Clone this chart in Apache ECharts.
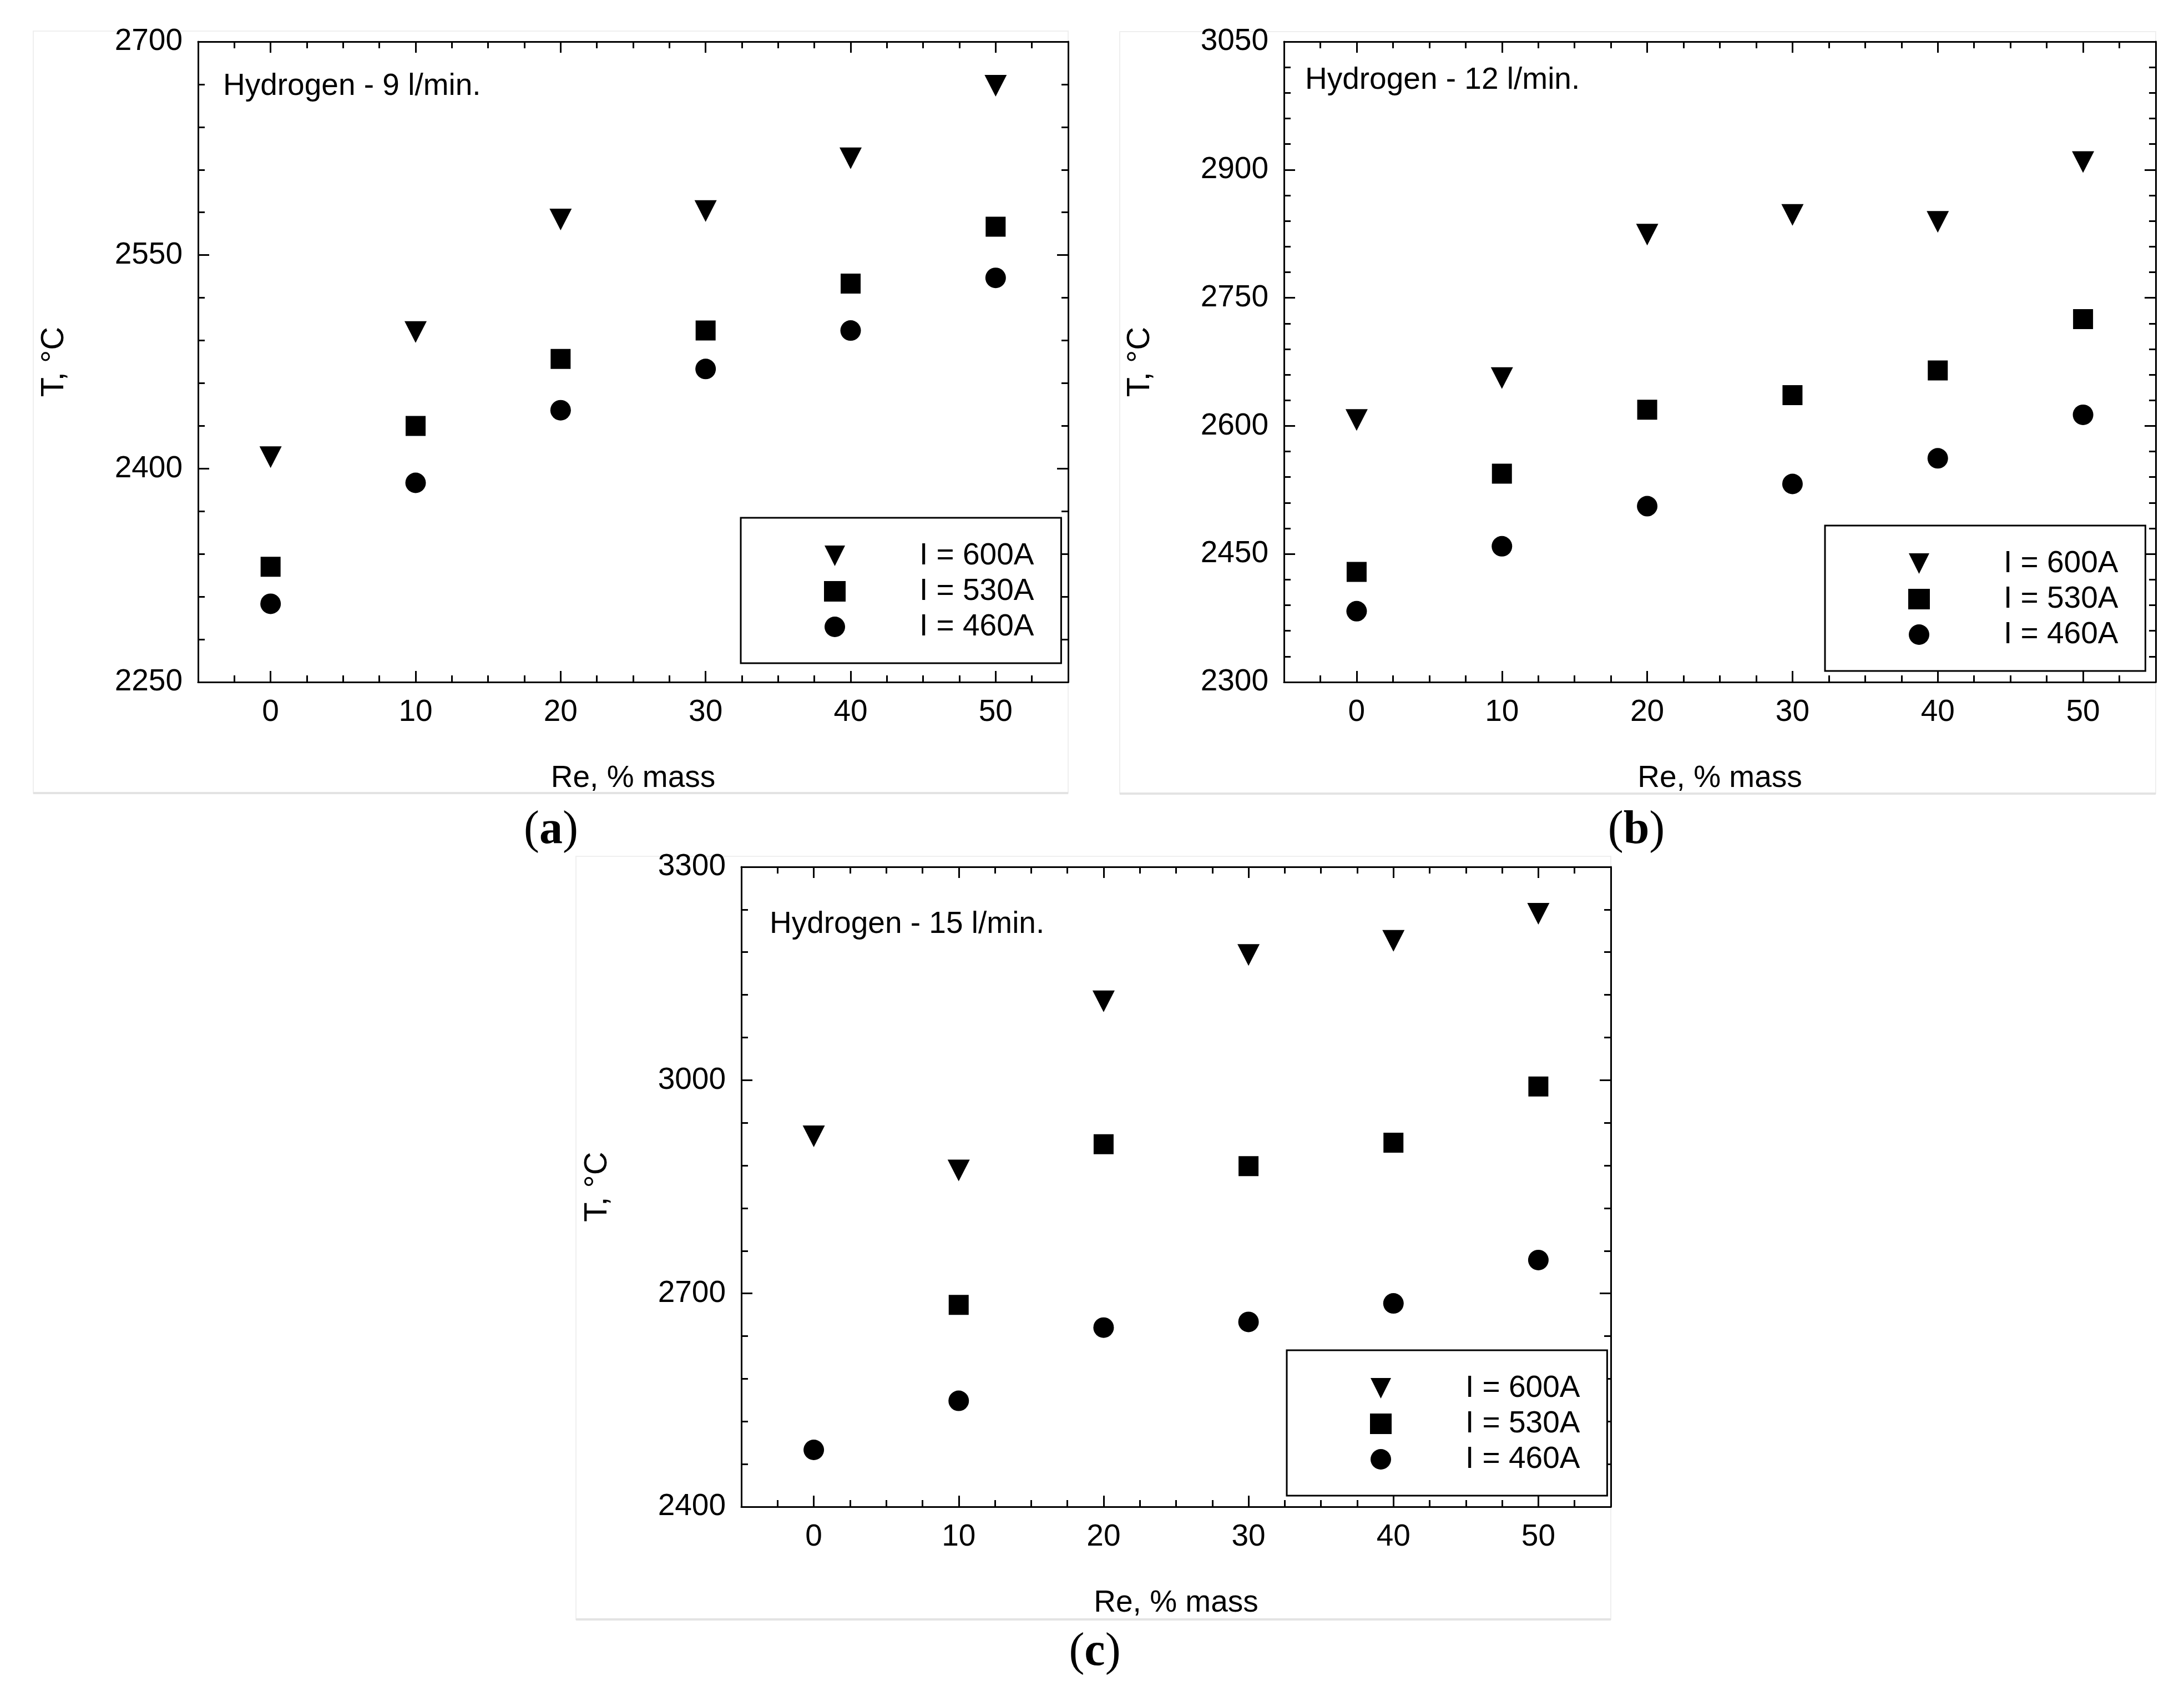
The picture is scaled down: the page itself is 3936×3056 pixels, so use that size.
<!DOCTYPE html>
<html>
<head>
<meta charset="utf-8">
<script src="https://cdn.jsdelivr.net/npm/echarts@6/dist/echarts.min.js"></script>
<style>
  html, body { margin: 0; padding: 0; background: #fff; }
  #chart { width: 3936px; height: 3056px; }
</style>
</head>
<body>
<div id="chart"></div>
<script>
// Re content, % mass
var reMass = [0, 10, 20, 30, 40, 50];
var xTicks = [0, 10, 20, 30, 40, 50];
var xMinorTicks = [-2.5, 2.5, 5, 7.5, 12.5, 15, 17.5, 22.5, 25, 27.5, 32.5, 35, 37.5, 42.5, 45, 47.5, 52.5];
var currents = ['I = 600A', 'I = 530A', 'I = 460A'];
var titles = ['Hydrogen - 9 l/min.', 'Hydrogen - 12 l/min.', 'Hydrogen - 15 l/min.'];
var panelLabels = ['a', 'b', 'c'];

// T, °C  (hydrogen 9 l/min)
var h9_600 = [2408, 2496, 2575, 2581, 2618, 2669];
var h9_530 = [2331, 2430, 2477, 2497, 2530, 2570];
var h9_460 = [2305, 2390, 2441, 2470, 2497, 2534];
// hydrogen 12 l/min
var h12_600 = [2607, 2656, 2824, 2847, 2839, 2909];
var h12_530 = [2429, 2544, 2619, 2636, 2665, 2725];
var h12_460 = [2383, 2459, 2506, 2532, 2562, 2613];
// hydrogen 15 l/min (no 530A point at 0 %)
var h15_600 = [2921, 2873, 3111, 3176, 3196, 3234];
var h15_530 = [null, 2684, 2910, 2879, 2912, 2991];
var h15_460 = [2480, 2549, 2652, 2660, 2686, 2747];

// y range per panel: min, max, major step
var yMin = [2250, 2300, 2400];
var yMax = [2700, 3050, 3300];
var yStep = [150, 150, 300];

var panelData = [
  [h9_600, h9_530, h9_460],
  [h12_600, h12_530, h12_460],
  [h15_600, h15_530, h15_460]
];

// layout (pixels)
var panels = [
  { grid: [357, 75, 1568, 1154], leg: [1335, 933], title: [402, 156], label: [993, 1497], frame: [60, 56, 1925, 1429] },
  { grid: [2314, 75, 1571, 1154], leg: [3289, 947], title: [2352, 145], label: [2949, 1497], frame: [2018, 57, 3885, 1430] },
  { grid: [1336, 1562, 1567, 1153], leg: [2319, 2433], title: [1387, 1666], label: [1973, 2978], frame: [1038, 1543, 2903, 2918] }
];

var FONT = 'Liberation Sans, Arial, sans-serif';
var symbols = ['path://M0,0L10,0L5,10Z', 'rect', 'circle'];
var symbolSizes = [[40, 39], 36, 37];

function pairs(ys) {
  var out = [];
  ys.forEach(function (v, i) { if (v != null) out.push([reMass[i], v]); });
  return out;
}

var lineStyle = { color: '#000', width: 3 };
var grids = [], xAxes = [], yAxes = [], series = [], legends = [], graphics = [];

panels.forEach(function (p, i) {
  grids.push({ left: p.grid[0], top: p.grid[1], width: p.grid[2], height: p.grid[3], outerBoundsMode: 'none' });

  ['bottom', 'top'].forEach(function (pos) {
    var isBottom = pos === 'bottom';
    xAxes.push({
      type: 'value', gridIndex: i, position: pos, min: -5, max: 55,
      splitLine: { show: false },
      axisLine: { onZero: false, lineStyle: lineStyle },
      axisTick: { inside: true, length: 20, lineStyle: lineStyle, customValues: xTicks },
      axisLabel: isBottom ? { customValues: xTicks, margin: 27, fontSize: 55, fontFamily: FONT, color: '#000' } : { show: false },
      name: isBottom ? 'Re, % mass' : '',
      nameLocation: 'middle', nameGap: 146,
      nameTextStyle: { fontSize: 55, fontFamily: FONT, color: '#000' }
    });
    xAxes.push({
      type: 'value', gridIndex: i, position: pos, min: -5, max: 55,
      splitLine: { show: false },
      axisLine: { show: false, onZero: false },
      axisTick: { inside: true, length: 12, lineStyle: lineStyle, customValues: xMinorTicks },
      axisLabel: { show: false }
    });
  });

  ['left', 'right'].forEach(function (pos) {
    var isLeft = pos === 'left';
    yAxes.push({
      type: 'value', gridIndex: i, position: pos,
      min: yMin[i], max: yMax[i], interval: yStep[i],
      splitLine: { show: false },
      axisLine: { onZero: false, lineStyle: lineStyle },
      axisTick: { inside: true, length: 20, lineStyle: lineStyle },
      minorTick: { show: true, splitNumber: 5, length: 12, lineStyle: lineStyle },
      axisLabel: isLeft ? {
        margin: 28, fontSize: 55, fontFamily: FONT, color: '#000',
        formatter: function (v) { return String(v); }
      } : { show: false },
      name: isLeft ? 'T, °C' : '',
      nameLocation: 'middle', nameRotate: 90, nameGap: 230,
      nameTextStyle: { fontSize: 58, fontFamily: FONT, color: '#000' }
    });
  });

  panelData[i].forEach(function (ys, k) {
    series.push({
      type: 'scatter', name: currents[k],
      xAxisIndex: i * 4, yAxisIndex: i * 2,
      symbol: symbols[k], symbolSize: symbolSizes[k],
      itemStyle: { color: '#000', opacity: 1 },
      data: pairs(ys)
    });
  });

  legends.push({
    data: currents, orient: 'vertical', left: p.leg[0], top: p.leg[1],
    padding: [41, 49, 38, 150], itemWidth: 39, itemHeight: 37, itemGap: 9,
    borderColor: '#000', borderWidth: 3, borderRadius: 0, backgroundColor: '#fff',
    selectedMode: false,
    itemStyle: { opacity: 1 },
    textStyle: { fontSize: 55, lineHeight: 52, fontFamily: FONT, color: '#000', padding: [0, 0, 0, 128] }
  });

  var f = p.frame;
  graphics.push({ type: 'rect', z: -10, shape: { x: f[0], y: f[1], width: f[2] - f[0], height: f[3] - f[1] },
    style: { fill: 'none', stroke: '#efefef', lineWidth: 2 } });
  graphics.push({ type: 'line', z: -9, shape: { x1: f[0], y1: f[3], x2: f[2], y2: f[3] },
    style: { stroke: '#e3e3e3', lineWidth: 4 } });
  graphics.push({ type: 'text', x: p.title[0], y: p.title[1],
    style: { text: titles[i], fontSize: 55, fontFamily: FONT, fill: '#000', verticalAlign: 'middle' } });
  graphics.push({ type: 'text', x: p.label[0], y: p.label[1],
    style: {
      text: '{p|(}{b|' + panelLabels[i] + '}{p|)}', align: 'center', verticalAlign: 'middle',
      rich: {
        p: { fontSize: 84, fontFamily: 'Liberation Serif, serif', fill: '#000' },
        b: { fontSize: 84, fontFamily: 'Liberation Serif, serif', fontWeight: 'bold', fill: '#000' }
      }
    } });
});

var chart = echarts.init(document.getElementById('chart'));
chart.setOption({
  backgroundColor: '#fff',
  animation: false,
  grid: grids,
  xAxis: xAxes,
  yAxis: yAxes,
  legend: legends,
  series: series,
  graphic: graphics
});
</script>
</body>
</html>
